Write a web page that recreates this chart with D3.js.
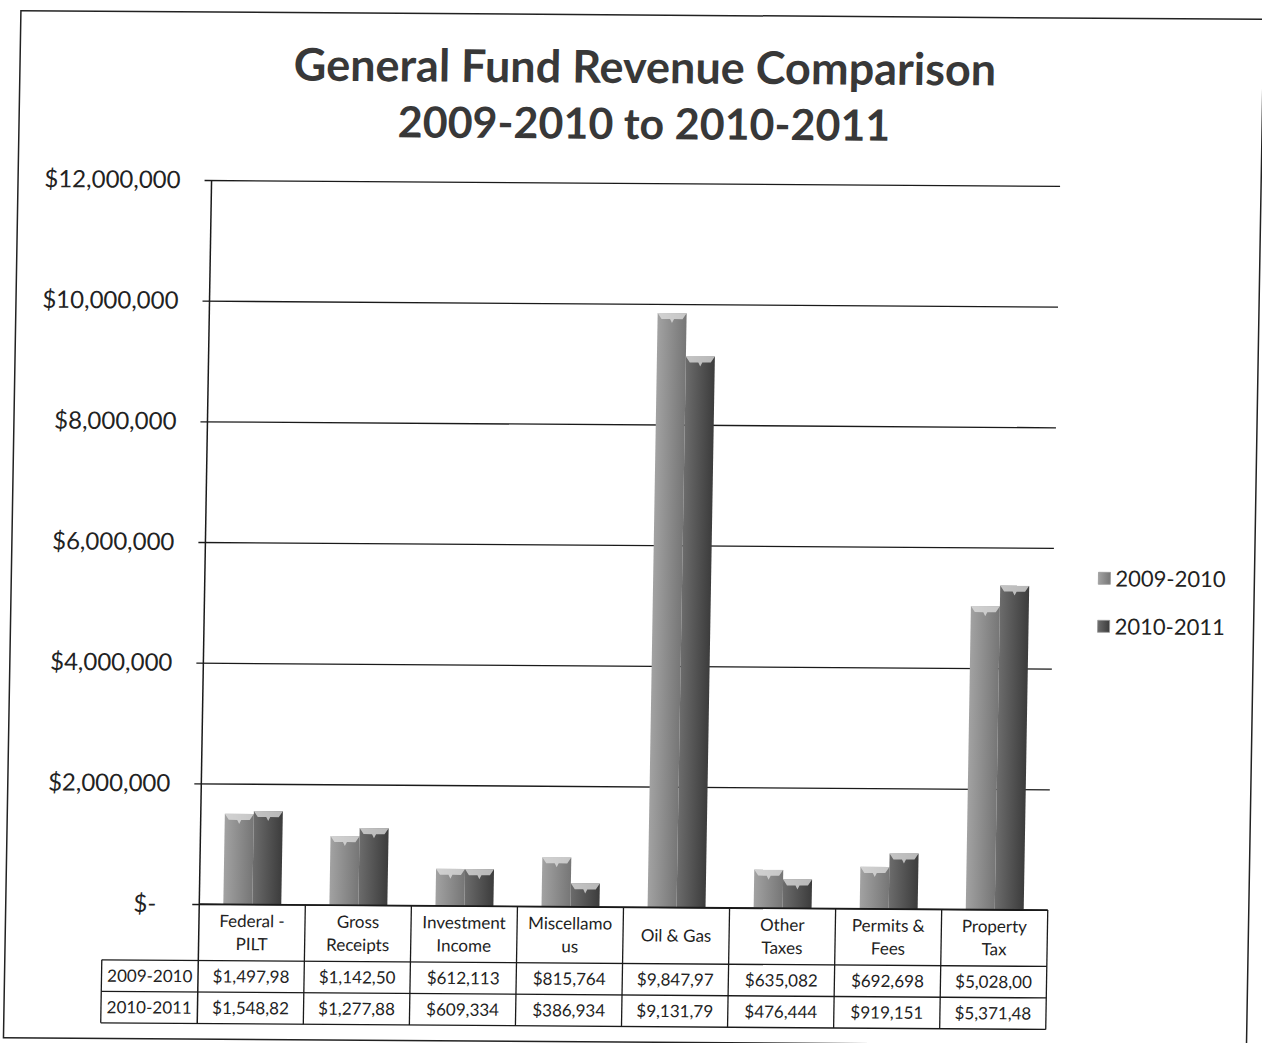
<html>
  <head>
    <meta charset="utf-8">
    <title>General Fund Revenue Comparison</title>
    <style>
      body { margin: 0; background: #fff; }
      text { font-family: Lato, "Open Sans", sans-serif; fill: #222; }
    </style>
  </head>
  <body>
    <script src="https://cdn.jsdelivr.net/npm/d3@7"></script>
    <script>

    var width = 1262, height = 1043;

    // categories as printed (line breaks as in the chart)
    var categories = ["Federal -\nPILT", "Gross\nReceipts", "Investment\nIncome", "Miscellamo\nus",
                      "Oil & Gas", "Other\nTaxes", "Permits &\nFees", "Property\nTax"];
    var seriesNames = ["2009-2010", "2010-2011"];
    var values2009 = [1497980, 1142500, 612113, 815764, 9847970, 635082, 692698, 5028000];
    var values2010 = [1548820, 1277880, 609334, 386934, 9131790, 476444, 919151, 5371480];
    var yTicks = [0, 2000000, 4000000, 6000000, 8000000, 10000000, 12000000];
    var titleLines = ["General Fund Revenue Comparison", "2009-2010 to 2010-2011"];

    var seriesValues = [values2009, values2010];
    var colors = [["#a2a2a2", "#767676"], ["#6c6c6c", "#3c3c3c"]];

    var svg = d3.select("body").append("svg")
                .attr("width", width)
                .attr("height", height);

    // gradients for the bars
    var defs = svg.append("defs");
    colors.forEach(function(c, i){
        var g = defs.append("linearGradient").attr("id", "grad" + i)
                    .attr("x1", "0%").attr("x2", "100%").attr("y1", "0%").attr("y2", "0%");
        g.append("stop").attr("offset", "0%").attr("stop-color", c[0]);
        g.append("stop").attr("offset", "100%").attr("stop-color", c[1]);
    });

    // the scan is slightly skewed
    var page = svg.append("g")
                  .attr("transform", "translate(630,540) matrix(1,0.007,-0.017,1,0,0) translate(-630,-540)");

    // outer frame
    page.append("rect")
        .attr("x", 12).attr("y", 15)
        .attr("width", 1243).attr("height", 1027)
        .attr("fill", "none").attr("stroke", "#222").attr("stroke-width", 1.5);

    // title
    page.selectAll(".title")
        .data(titleLines)
        .enter()
        .append("text")
        .attr("class", "title")
        .attr("x", 637)
        .attr("y", (d, i) => 83 + i * 56)
        .attr("text-anchor", "middle")
        .style("font-size", (d, i) => i == 0 ? "45px" : "43px")
        .style("font-weight", "bold")
        .style("fill", "#383838")
        .text(d => d);

    var pLeft = 205.5, pRight = 1054, pTop = 183, pBottom = 907;

    var x = d3.scaleBand().domain(categories).range([pLeft, pRight]);
    var xSub = d3.scaleBand().domain(seriesNames).range([0, x.bandwidth()]).paddingOuter(0.83);
    var y = d3.scaleLinear().domain([0, 12000000]).range([pBottom, pTop]);

    // gridlines + y labels
    var yAxis = d3.axisLeft(y)
                  .tickValues(yTicks)
                  .tickSize(-(pRight - pLeft))
                  .tickPadding(31)
                  .tickFormat(d => d === 0 ? "$-" : d3.format("$,")(d));
    var gy = page.append("g")
                 .attr("transform", "translate(" + pLeft + ",0)")
                 .call(yAxis);
    gy.select(".domain").remove();
    gy.selectAll(".tick line")
      .attr("x1", -7)
      .attr("stroke", "#1a1a1a").attr("stroke-width", 1.3);
    gy.selectAll(".tick text")
      .attr("font-family", null).attr("font-size", null)
      .style("font-size", "24px")
      .attr("dx", d => d === 0 ? -12 : 0);

    // bars
    var bars = page.selectAll(".series")
                   .data(seriesValues)
                   .enter()
                   .append("g")
                   .attr("class", "series");

    bars.selectAll("rect")
        .data((d, si) => d.map((v, ci) => ({v: v, c: categories[ci], s: si})))
        .enter()
        .append("rect")
        .attr("x", d => x(d.c) + xSub(seriesNames[d.s]))
        .attr("y", d => y(d.v))
        .attr("width", xSub.bandwidth())
        .attr("height", d => pBottom - y(d.v))
        .attr("fill", d => "url(#grad" + d.s + ")");

    // light bevel on the bar tops
    bars.selectAll("path")
        .data((d, si) => d.map((v, ci) => ({v: v, c: categories[ci], s: si})))
        .enter()
        .append("path")
        .attr("d", function(d){
            var x0 = x(d.c) + xSub(seriesNames[d.s]), w = xSub.bandwidth(), y0 = y(d.v);
            return "M" + x0 + "," + y0 + "h" + w + "l-4,6h" + (-(w / 2 - 6)) + "l-2,4l-2,-4h" + (-(w / 2 - 6)) + "z";
        })
        .attr("fill", "#e2e2e2")
        .attr("opacity", 0.75);

    // y axis line down through the table
    page.append("line")
        .attr("x1", pLeft).attr("x2", pLeft)
        .attr("y1", pTop).attr("y2", 1026.5)
        .attr("stroke", "#1a1a1a").attr("stroke-width", 1.5);

    // data table
    var rowTop = 963.5, rowH = 31.5, headLeft = 109;
    var tbl = page.append("g").attr("class", "table");

    // horizontal rules
    tbl.append("line").attr("x1", pLeft).attr("x2", pRight).attr("y1", pBottom).attr("y2", pBottom)
       .attr("stroke", "#1a1a1a").attr("stroke-width", 1.5);
    [0, 1, 2].forEach(function(r){
        tbl.append("line")
           .attr("x1", headLeft).attr("x2", pRight)
           .attr("y1", rowTop + r * rowH).attr("y2", rowTop + r * rowH)
           .attr("stroke", "#1a1a1a").attr("stroke-width", 1.3);
    });
    // vertical rules
    categories.forEach(function(c){
        tbl.append("line")
           .attr("x1", x(c) + x.bandwidth()).attr("x2", x(c) + x.bandwidth())
           .attr("y1", pBottom).attr("y2", rowTop + 2 * rowH)
           .attr("stroke", "#1a1a1a").attr("stroke-width", 1.3);
    });
    tbl.append("line").attr("x1", headLeft).attr("x2", headLeft)
       .attr("y1", rowTop).attr("y2", rowTop + 2 * rowH)
       .attr("stroke", "#1a1a1a").attr("stroke-width", 1.3);

    // category headers
    tbl.selectAll(".cat")
       .data(categories)
       .enter()
       .append("text")
       .attr("class", "cat")
       .attr("text-anchor", "middle")
       .style("font-size", "17px")
       .each(function(d){
           var lines = d.split("\n");
           var t = d3.select(this);
           lines.forEach(function(l, i){
               t.append("tspan")
                .attr("x", x(d) + x.bandwidth() / 2)
                .attr("y", (pBottom + rowTop) / 2 + 6 + (i - (lines.length - 1) / 2) * 23)
                .text(l);
           });
       });

    // row headers
    tbl.selectAll(".rowhead")
       .data(seriesNames)
       .enter()
       .append("text")
       .attr("class", "rowhead")
       .attr("x", (headLeft + pLeft) / 2)
       .attr("y", (d, i) => rowTop + i * rowH + rowH / 2 + 6)
       .attr("text-anchor", "middle")
       .style("font-size", "17px")
       .text(d => d);

    // values (the cells cut the numbers off)
    seriesValues.forEach(function(vals, si){
        tbl.selectAll(".val" + si)
           .data(vals)
           .enter()
           .append("text")
           .attr("class", "val" + si)
           .attr("x", (d, i) => x(categories[i]) + x.bandwidth() / 2)
           .attr("y", rowTop + si * rowH + rowH / 2 + 6)
           .attr("text-anchor", "middle")
           .style("font-size", "17px")
           .text(d => d3.format("$,")(d).slice(0, 9));
    });

    // legend
    var legend = page.selectAll(".legend")
                     .data(seriesNames)
                     .enter()
                     .append("g")
                     .attr("class", "legend")
                     .attr("transform", (d, i) => "translate(1099," + (569 + i * 48) + ")");
    legend.append("rect")
          .attr("width", 12).attr("height", 12)
          .attr("fill", (d, i) => "url(#grad" + i + ")")
          .attr("stroke", "#999").attr("stroke-width", 0.8);
    legend.append("text")
          .attr("x", 17).attr("y", 14)
          .style("font-size", "22px")
          .text(d => d);

    </script>
  </body>
</html>
